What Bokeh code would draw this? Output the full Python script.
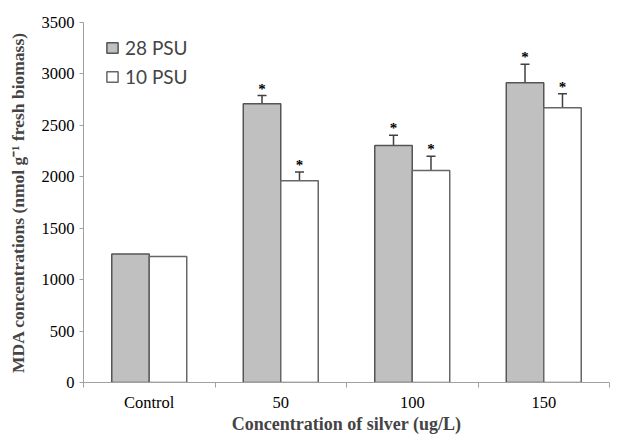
from bokeh.plotting import figure
from bokeh.models import FixedTicker, Whisker, ColumnDataSource, Legend, LegendItem, TeeHead, Range1d
from bokeh.embed import file_html
from bokeh.resources import INLINE
from bokeh.core.properties import value

categories = ["Control", "50", "100", "150"]
psu28 = [1250, 2710, 2305, 2915]
psu28_err = [0, 80, 100, 180]
psu10 = [1225, 1962, 2060, 2672]
psu10_err = [0, 85, 140, 135]
sig28 = ["", "*", "*", "*"]
sig10 = ["", "*", "*", "*"]
y_ticks = [0, 500, 1000, 1500, 2000, 2500, 3000, 3500]

BW = 0.285
centers = [i + 0.5 for i in range(len(categories))]
x28 = [c - BW / 2 for c in centers]
x10 = [c + BW / 2 for c in centers]

p = figure(width=618, height=436, output_backend="svg", toolbar_location=None,
           x_range=Range1d(0, 4), y_range=Range1d(0, 3500),
           min_border_left=83, min_border_right=9, min_border_top=22, min_border_bottom=53)
p.outline_line_color = None
p.xgrid.visible = False
p.ygrid.visible = False
p.background_fill_color = "white"

src28 = ColumnDataSource(dict(x=x28, top=psu28, err=psu28_err, sig=sig28))
src10 = ColumnDataSource(dict(x=x10, top=psu10, err=psu10_err, sig=sig10))

r28 = p.vbar(x="x", top="top", width=BW, source=src28, fill_color="#c0c0c0",
             line_color="#555555", line_width=1.5)
r10 = p.vbar(x="x", top="top", width=BW, source=src10, fill_color="white",
             line_color="#666666", line_width=1.5)

for xs, vals, errs, sigs in [(x28, psu28, psu28_err, sig28), (x10, psu10, psu10_err, sig10)]:
    idx = [i for i, e in enumerate(errs) if e > 0]
    es = ColumnDataSource(dict(
        x=[xs[i] for i in idx],
        lower=[vals[i] - errs[i] for i in idx],
        upper=[vals[i] + errs[i] for i in idx],
        sig=[sigs[i] for i in idx],
    ))
    w = Whisker(base="x", lower="lower", upper="upper", source=es,
                line_color="#404040", line_width=1.5,
                upper_head=TeeHead(size=9, line_color="#404040", line_width=1.5),
                lower_head=TeeHead(size=9, line_color="#404040", line_width=1.5))
    p.add_layout(w)
    p.text(x="x", y="upper", text="sig", source=es, text_align="center",
           text_baseline="middle", y_offset=-7, text_font=value("Liberation Serif"),
           text_font_style="bold", text_font_size="15px", text_color="black")

legend = Legend(items=[LegendItem(label="28 PSU", renderers=[r28]),
                       LegendItem(label="10 PSU", renderers=[r10])],
                location=(22, 294), padding=5, spacing=6, margin=0,
                glyph_width=14, glyph_height=13, label_height=20, label_standoff=6,
                label_text_font="Lato", label_text_font_size="19px",
                border_line_color=None, background_fill_alpha=0)
p.add_layout(legend)

# y axis
p.yaxis.ticker = FixedTicker(ticks=y_ticks)
p.yaxis.axis_label = "MDA concentrations (nmol g\u207b\u00b9 fresh biomass)"
p.yaxis.axis_label_text_font = "Liberation Serif"
p.yaxis.axis_label_text_font_style = "bold"
p.yaxis.axis_label_text_font_size = "17.5px"
p.yaxis.axis_label_standoff = 11
p.yaxis.major_label_text_font = "Liberation Serif"
p.yaxis.major_label_text_font_size = "16.5px"
p.yaxis.major_label_text_color = "black"
p.yaxis.major_label_standoff = 5
p.yaxis.major_tick_out = 4
p.yaxis.major_tick_in = 0
p.yaxis.minor_tick_out = 0
p.yaxis.minor_tick_in = 0
p.yaxis.axis_line_color = "#a0a0a0"
p.yaxis.major_tick_line_color = "#a0a0a0"

# x axis
p.xaxis.ticker = FixedTicker(ticks=centers, minor_ticks=[0, 1, 2, 3, 4])
p.xaxis.major_label_overrides = {c: cat for c, cat in zip(centers, categories)}
p.xaxis.axis_label = "Concentration of silver (ug/L)"
p.xaxis.axis_label_text_font = "Liberation Serif"
p.xaxis.axis_label_text_font_style = "bold"
p.xaxis.axis_label_text_font_size = "18px"
p.xaxis.axis_label_standoff = -1
p.xaxis.major_label_text_font = "Liberation Serif"
p.xaxis.major_label_text_font_size = "16.5px"
p.xaxis.major_label_text_color = "black"
p.xaxis.major_label_standoff = 5
p.xaxis.major_tick_out = 0
p.xaxis.major_tick_in = 0
p.xaxis.minor_tick_out = 5
p.xaxis.minor_tick_in = 0
p.xaxis.axis_line_color = "#a0a0a0"
p.xaxis.minor_tick_line_color = "#a0a0a0"

open("out.html", "w").write(file_html(p, INLINE))
